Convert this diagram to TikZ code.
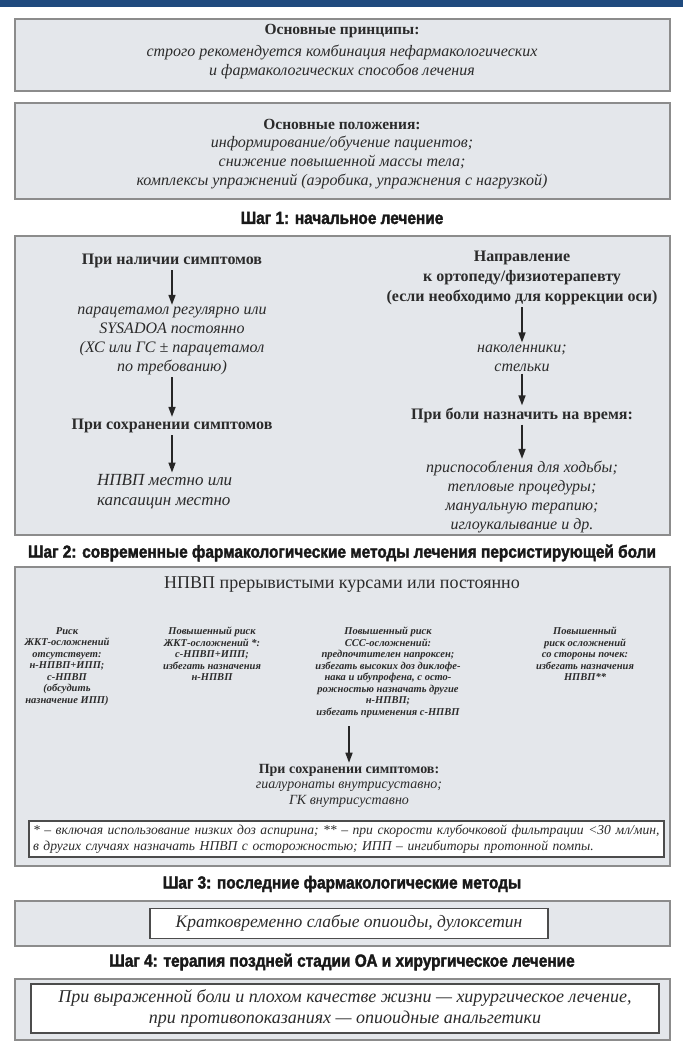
\documentclass[tikz,border=0pt]{standalone}
\usepackage{fontspec}
\setmainfont{Liberation Serif}
\newfontfamily\stepfont[FakeStretch=0.88,BoldFeatures={FakeBold=2}]{Liberation Sans}
\usetikzlibrary{arrows.meta}

\definecolor{barblue}{HTML}{1F4A7E}
\definecolor{panelgray}{HTML}{E4E7EB}
\definecolor{framegray}{HTML}{8C8C8C}
\definecolor{inkgray}{HTML}{2B2B2B}

\newcommand*{\boxl}{15}
\newcommand*{\boxr}{670}
\newcommand*{\midx}{342}

\begin{document}
\begin{tikzpicture}
[
	x=1pt,y=-1pt,
	panel/.style={draw=framegray,line width=1.6pt,fill=panelgray},
	whitebox/.style={draw=black!70,line width=1.1pt,fill=white,text=inkgray},
	head/.style={font=\stepfont\bfseries\fontsize{17.5}{20}\selectfont,text=black!90,inner sep=0pt},
	plain/.style={font=\bfseries\fontsize{15.5}{19}\selectfont,text=inkgray,align=center,inner sep=2pt},
	cond/.style={font=\bfseries\fontsize{16}{20}\selectfont,text=inkgray,align=center,inner sep=2pt},
	drug/.style={font=\itshape\fontsize{16}{19}\selectfont,text=inkgray,align=center,inner sep=2pt},
	risk/.style={font=\bfseries\itshape\fontsize{10.5}{11.5}\selectfont,text=inkgray,align=center,anchor=north,inner sep=0pt},
	flow/.style={-{Triangle[width=7pt,length=10pt]},line width=1.6pt,black!85},
]

	\useasboundingbox (0,0) rectangle (683,1047);

	% top bar
	\fill[barblue] (0,0) rectangle (683,7);

	% panels
	\draw[panel] (\boxl,19) rectangle (\boxr,91);
	\draw[panel] (\boxl,103) rectangle (\boxr,199);
	\draw[panel] (\boxl,236) rectangle (\boxr,535);
	\draw[panel] (\boxl,567) rectangle (\boxr,866);
	\draw[panel] (\boxl,901) rectangle (\boxr,946);
	\draw[panel] (\boxl,979) rectangle (\boxr,1040);

	% general principles
	\node[plain] (princ) at (\midx,31) {Основные принципы:};
	\node[drug] (princtxt) at (\midx,61.5) {строго рекомендуется комбинация нефармакологических\\и фармакологических способов лечения};

	\node[plain] (basics) at (\midx,124) {Основные положения:};
	\node[drug] (basicstxt) at (\midx,162) {информирование/обучение пациентов;\\снижение повышенной массы тела;\\комплексы упражнений (аэробика, упражнения с нагрузкой)};

	% step 1
	\node[head] (step1) at (\midx,218) {Шаг 1: начальное лечение};

	\node[cond] (sympt) at (172,261) {При наличии симптомов};
	\node[drug] (paracet) at (172,341) {парацетамол регулярно или\\SYSADOA постоянно\\(ХС или ГС ± парацетамол\\по требованию)};
	\node[cond] (persist) at (172,426) {При сохранении симптомов};
	\node[drug,align=left,anchor=west,font=\itshape\fontsize{17}{20}\selectfont] (nsaidloc) at (95,492) {НПВП местно или\\капсаицин местно};

	\draw[flow] (sympt) -- (paracet);
	\draw[flow] (paracet) -- (persist);
	\draw[flow] (persist.south) -- (persist.south |- nsaidloc.north);

	\node[cond] (refer) at (522,278) {Направление\\к ортопеду/физиотерапевту\\(если необходимо для коррекции оси)};
	\node[drug] (braces) at (522,358) {наколенники;\\стельки};
	\node[cond] (painrx) at (522,415) {При боли назначить на время:};
	\node[drug] (aids) at (522,497) {приспособления для ходьбы;\\тепловые процедуры;\\мануальную терапию;\\иглоукалывание и др.};

	\draw[flow] (refer) -- (braces);
	\draw[flow] (braces) -- (painrx);
	\draw[flow] (painrx) -- (aids);

	% step 2
	\node[head] (step2) at (\midx,553) {Шаг 2: современные фармакологические методы лечения персистирующей боли};

	\node[plain,font=\fontsize{18}{20}\selectfont] (nsaidcourse) at (\midx,585) {НПВП прерывистыми курсами или постоянно};

	\node[risk] (riskgi0) at (67,627) {Риск\\ЖКТ-осложнений\\отсутствует:\\н-НПВП+ИПП;\\с-НПВП\\(обсудить\\назначение ИПП)};
	\node[risk] (riskgi1) at (212,627) {Повышенный риск\\ЖКТ-осложнений *:\\с-НПВП+ИПП;\\избегать назначения\\н-НПВП};
	\node[risk] (riskcv) at (388,627) {Повышенный риск\\ССС-осложнений:\\предпочтителен напроксен;\\избегать высоких доз диклофе-\\нака и ибупрофена, с осто-\\рожностью назначать другие\\н-НПВП;\\избегать применения с-НПВП};
	\node[risk] (riskren) at (585,627) {Повышенный\\риск осложнений\\со стороны почек:\\избегать назначения\\НПВП**};

	\coordinate (colsend) at (349,726);
	\node[cond,font=\bfseries\fontsize{14}{16}\selectfont,inner sep=1pt] (persist2) at (349,770) {При сохранении симптомов:};
	\node[drug,font=\itshape\fontsize{14}{16}\selectfont,inner sep=1pt] (intraart) at (349,795) {гиалуронаты внутрисуставно;\\ГК внутрисуставно};

	\draw[flow] (colsend) -- (persist2);

	\node[whitebox,minimum width=635pt,minimum height=36pt,text width=627pt,inner xsep=4pt,align=left,
		font=\itshape\fontsize{13.6}{16}\selectfont] (notes) at (346.5,839)
		{* – включая использование низких доз аспирина; ** – при скорости клубочковой фильтрации <30 мл/мин,\\в других случаях назначать НПВП с осторожностью; ИПП – ингибиторы протонной помпы.};

	% step 3
	\node[head] (step3) at (\midx,884) {Шаг 3: последние фармакологические методы};
	\node[whitebox,minimum width=398pt,minimum height=30pt,font=\itshape\fontsize{17.5}{20}\selectfont] (opioid) at (349,923.5) {Кратковременно слабые опиоиды, дулоксетин};

	% step 4
	\node[head] (step4) at (\midx,962) {Шаг 4: терапия поздней стадии ОА и хирургическое лечение};
	\node[whitebox,minimum width=628pt,minimum height=49pt,align=center,font=\itshape\fontsize{18}{21}\selectfont] (surgery) at (345,1008.5) {При выраженной боли и плохом качестве жизни — хирургическое лечение,\\при противопоказаниях — опиоидные анальгетики};

\end{tikzpicture}
\end{document}
